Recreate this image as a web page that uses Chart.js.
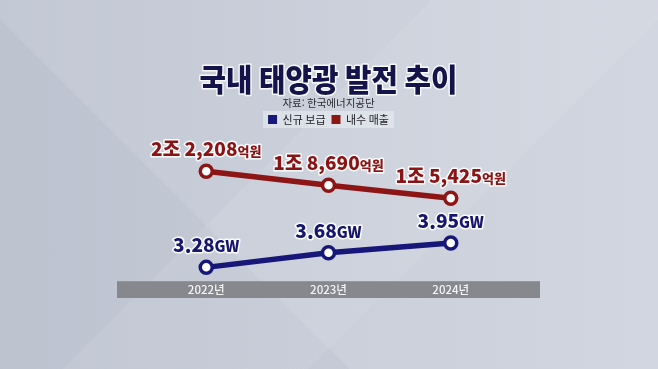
<!DOCTYPE html>
<html lang="ko">
<head>
<meta charset="utf-8">
<script src="https://cdn.jsdelivr.net/npm/chart.js@4.4.1/dist/chart.umd.min.js"></script>
<style>
  html, body { margin: 0; padding: 0; }
  body {
    width: 658px; height: 369px; overflow: hidden;
    background:
      linear-gradient(135deg, rgba(255,255,255,0) 0 42%, rgba(255,255,255,0.07) 42% 66%, rgba(255,255,255,0) 66%),
      linear-gradient(45deg, rgba(60,70,95,0.04) 0 34%, rgba(0,0,0,0) 34%),
      linear-gradient(to right, #c2c8d4, #cbd0db 55%, #d2d6e0);
  }
  #wrap { position: relative; width: 658px; height: 369px; }
</style>
</head>
<body>
<div id="wrap"><canvas id="chart" width="658" height="369"></canvas></div>
<script>
const years = ['2022년', '2023년', '2024년'];
const supplyGW = [3.28, 3.68, 3.95];      // 신규 보급 (GW)
const salesEok = [22208, 18690, 15425];   // 내수 매출 (억원)
const seriesNames = ['신규 보급', '내수 매출'];
const titleText = '국내 태양광 발전 추이';
const sourceText = '자료: 한국에너지공단';

const BLUE = '#17177a';
const RED = '#8e1515';
const KR = '"Noto Sans CJK KR", "Noto Sans", sans-serif';

function fmtGW(v) { return [v.toFixed(2), 'GW']; }
function fmtEok(v) {
    const jo = Math.floor(v / 10000);
    const rest = v % 10000;
    return [jo + '조 ' + rest.toLocaleString('en-US'), '억원'];
}

// band behind the x axis + soft box behind the legend
const backdrop = {
    id: 'backdrop',
    beforeDraw(chart) {
        const ctx = chart.ctx;
        const x = chart.scales.x;
        ctx.save();
        ctx.fillStyle = '#86888e';
        ctx.fillRect(x.left, x.top, x.width, x.height);

        const boxes = chart.legend.legendHitBoxes;
        if (boxes && boxes.length) {
            const l = Math.min(...boxes.map(b => b.left)) - 5;
            const r = Math.max(...boxes.map(b => b.left + b.width)) + 5;
            const t = Math.min(...boxes.map(b => b.top)) - 3;
            const b = Math.max(...boxes.map(b => b.top + b.height)) + 3;
            ctx.fillStyle = 'rgba(235,238,244,0.55)';
            ctx.fillRect(l, t, r - l, b - t);
        }
        ctx.restore();
    }
};

// title, source and value labels
const headings = {
    id: 'headings',
    afterDraw(chart) {
        const ctx = chart.ctx;
        const cx = (chart.chartArea.left + chart.chartArea.right) / 2;
        ctx.save();
        ctx.textAlign = 'center';
        ctx.textBaseline = 'middle';
        ctx.lineJoin = 'round';

        ctx.font = '900 31px ' + KR;
        const w = ctx.measureText(titleText).width;
        const sx = Math.min(1, 258 / w);
        ctx.save();
        ctx.translate(cx, 79);
        ctx.scale(sx, 1);
        ctx.strokeStyle = 'rgba(255,255,255,0.85)';
        ctx.lineWidth = 3;
        ctx.strokeText(titleText, 0, 0);
        ctx.fillStyle = '#14134a';
        ctx.fillText(titleText, 0, 0);
        ctx.restore();

        ctx.font = '10.5px ' + KR;
        ctx.fillStyle = '#2a2a30';
        ctx.fillText(sourceText, cx, 103);
        ctx.restore();
    },
    afterDatasetsDraw(chart) {
        const ctx = chart.ctx;
        ctx.save();
        ctx.textAlign = 'left';
        ctx.textBaseline = 'alphabetic';
        ctx.lineJoin = 'round';
        chart.data.datasets.forEach((ds, di) => {
            const meta = chart.getDatasetMeta(di);
            meta.data.forEach((pt, i) => {
                const [main, unit] = ds.fmt(ds.data[i].y);
                const bigFont = '900 19px ' + KR;
                const smallFont = '900 ' + ds.unitSize + 'px ' + KR;
                ctx.font = bigFont;
                const w1 = ctx.measureText(main).width;
                ctx.font = smallFont;
                const w2 = ctx.measureText(unit).width;
                let x = pt.x - (w1 + w2) / 2;
                const y = pt.y - 15;
                [[main, bigFont, w1], [unit, smallFont, w2]].forEach(([t, f, tw]) => {
                    ctx.font = f;
                    ctx.strokeStyle = 'rgba(255,255,255,0.9)';
                    ctx.lineWidth = 3;
                    ctx.strokeText(t, x, y);
                    ctx.fillStyle = ds.textColor;
                    ctx.fillText(t, x, y);
                    x += tw;
                });
            });
        });
        ctx.restore();
    }
};

const ctx = document.getElementById('chart').getContext('2d');

new Chart(ctx, {
    type: 'line',
    data: {
        datasets: [
            {
                label: seriesNames[0],
                data: supplyGW.map((v, i) => ({ x: i, y: v })),
                yAxisID: 'yGW',
                borderColor: BLUE,
                backgroundColor: BLUE,
                borderWidth: 5.5,
                pointRadius: 6,
                pointBorderWidth: 3.5,
                pointBackgroundColor: '#ffffff',
                pointBorderColor: BLUE,
                clip: false,
                fmt: fmtGW,
                unitSize: 15,
                textColor: '#16166e',
            },
            {
                label: seriesNames[1],
                data: salesEok.map((v, i) => ({ x: i, y: v })),
                yAxisID: 'yEok',
                borderColor: RED,
                backgroundColor: RED,
                borderWidth: 5.5,
                pointRadius: 6,
                pointBorderWidth: 3.5,
                pointBackgroundColor: '#ffffff',
                pointBorderColor: RED,
                clip: false,
                fmt: fmtEok,
                unitSize: 13,
                textColor: '#8a1414',
            },
        ],
    },
    options: {
        responsive: false,
        animation: false,
        layout: { padding: { top: 108, bottom: 71, left: 117, right: 118 } },
        scales: {
            x: {
                type: 'linear',
                min: -0.73,
                max: 2.73,
                afterBuildTicks: (scale) => { scale.ticks = years.map((_, i) => ({ value: i })); },
                grid: { display: false, drawTicks: false },
                border: { display: false },
                ticks: {
                    padding: 1.5,
                    color: '#f4f4f4',
                    font: { family: KR, size: 11.5, weight: '500' },
                    callback: (v) => years[v],
                },
            },
            yGW: { display: false, min: 2.899, max: 6.925 },
            yEok: { display: false, min: -5387, max: 31306 },
        },
        plugins: {
            legend: {
                position: 'top',
                labels: {
                    boxWidth: 9,
                    boxHeight: 9,
                    padding: 6,
                    color: '#1c1c22',
                    font: { family: KR, size: 11 },
                    generateLabels: (chart) =>
                        Chart.defaults.plugins.legend.labels.generateLabels(chart)
                            .map(l => ({ ...l, lineWidth: 0 })),
                },
            },
            tooltip: { enabled: false },
        },
    },
    plugins: [backdrop, headings],
});
</script>
</body>
</html>
